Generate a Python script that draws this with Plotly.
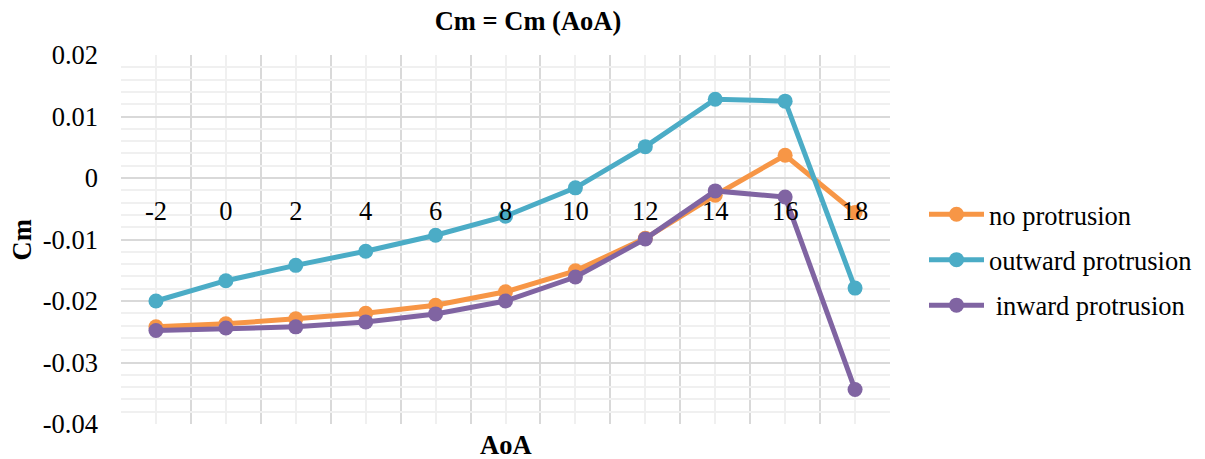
import plotly.graph_objects as go

# Angle of attack (deg)
aoa = [-2, 0, 2, 4, 6, 8, 10, 12, 14, 16, 18]
aoa_labels = ["-2", "0", "2", "4", "6", "8", "10", "12", "14", "16", "18"]

# Pitching moment coefficient per configuration
cm_no = [-0.0242, -0.0237, -0.0229, -0.0220, -0.0207, -0.0185, -0.0151, -0.0098, -0.0028, 0.0037, -0.0056]
cm_out = [-0.0200, -0.0167, -0.0142, -0.0119, -0.0093, -0.0062, -0.0016, 0.0051, 0.0128, 0.0125, -0.0179]
cm_in = [-0.0248, -0.0244, -0.0242, -0.0234, -0.0221, -0.0200, -0.0161, -0.0099, -0.0021, -0.0031, -0.0344]

y_ticks = [0.02, 0.01, 0.0, -0.01, -0.02, -0.03, -0.04]
y_labels = ["0.02", "0.01", "0", "-0.01", "-0.02", "-0.03", "-0.04"]

series = [
    ("no protrusion", cm_no, "#F79646"),
    ("outward protrusion", cm_out, "#4BACC6"),
    (" inward protrusion", cm_in, "#8064A2"),
]

FONT = '"Liberation Serif", "Times New Roman", serif'
FS = 26.5
Y_MIN, Y_MAX = -0.04, 0.02

fig = go.Figure()
for i, (name, vals, col) in enumerate(series):
    fig.add_trace(go.Scatter(
        x=aoa, y=vals, name=name, mode="lines+markers",
        line=dict(color=col, width=5),
        marker=dict(color=col, size=15),
        legendgroup=f"g{i}",
    ))

# x axis labels sit on the Cm = 0 line
zero_pos = (0 - Y_MIN) / (Y_MAX - Y_MIN)

fig.update_layout(
    width=1205, height=459,
    margin=dict(l=121, r=315, t=55, b=35, autoexpand=False),
    paper_bgcolor="white", plot_bgcolor="white",
    font=dict(family=FONT, size=FS, color="black"),
    title=dict(text="<b>Cm = Cm (AoA)</b>", x=528 / 1205, xanchor="center",
               y=1 - 21 / 459, yanchor="middle", font=dict(size=FS, family=FONT)),
    showlegend=True,
    legend=dict(x=1 + 34 / 769, xanchor="left", xref="paper",
                y=(424 - 260) / 369, yanchor="middle",
                font=dict(size=FS, family=FONT), itemwidth=55,
                tracegroupgap=8, bgcolor="rgba(0,0,0,0)"),
    xaxis=dict(
        range=[-3, 19], anchor="free", position=zero_pos,
        tickmode="array", tickvals=aoa, ticktext=aoa_labels,
        ticks="", ticklabelstandoff=14, showline=False, zeroline=False,
        showgrid=True, gridcolor="#f0f0f0", gridwidth=1.5,
        minor=dict(tick0=-3, dtick=2, showgrid=True, gridcolor="#d9d9d9", gridwidth=1.5, ticks=""),
        tickfont=dict(size=FS, family=FONT),
    ),
    yaxis=dict(
        range=[Y_MIN, Y_MAX], tickmode="array", tickvals=y_ticks, ticktext=y_labels,
        showgrid=True, gridcolor="#d9d9d9", gridwidth=1.5, zeroline=False,
        showline=False, ticks="", ticklabelstandoff=22,
        minor=dict(tick0=0, dtick=0.002, showgrid=True, gridcolor="#f0f0f0", gridwidth=1.5, ticks=""),
        tickfont=dict(size=FS, family=FONT),
    ),
    annotations=[
        dict(text="<b>Cm</b>", xref="paper", yref="paper", x=(21 - 121) / 769, y=0.5,
             xanchor="center", textangle=-90, showarrow=False, font=dict(size=FS, family=FONT)),
        dict(text="<b>AoA</b>", xref="paper", yref="paper", x=(506 - 121) / 769,
             y=-21 / 369, yanchor="middle", showarrow=False, font=dict(size=FS, family=FONT)),
    ],
)

fig.write_html("out.html")
